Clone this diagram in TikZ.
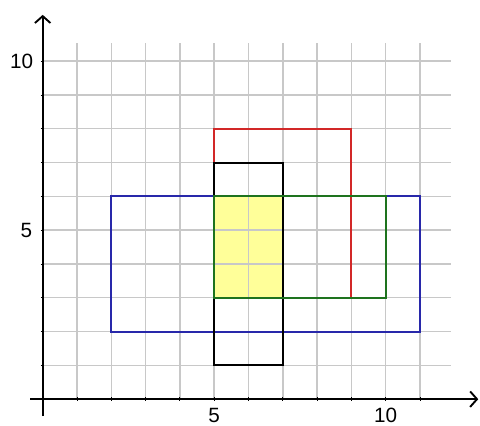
\documentclass[tikz,border=0pt]{standalone}
\usepackage{fontspec}
\setmainfont{Liberation Sans}
\usetikzlibrary{arrows.meta}
\definecolor{hilite}{RGB}{255,255,153}
\definecolor{gridgray}{RGB}{200,200,200}
\definecolor{rectblue}{RGB}{40,40,170}
\definecolor{rectred}{RGB}{210,40,40}
\definecolor{rectgreen}{RGB}{30,115,30}

\begin{document}
\begin{tikzpicture}[x=0.7cm, y=0.6898cm, font=\fontsize{12}{14}\selectfont,
  gridline/.style={draw=gridgray, line width=0.85pt},
  axisline/.style={line width=1.1pt, -{Straight Barb[length=4pt, width=9pt]}},
  region/.style={line width=1.1pt},
  ticklabel/.style={inner sep=3pt}]
    \useasboundingbox (-1.245,-0.79) rectangle (12.75,11.81);
    % overlap of all four boxes
    \fill[hilite] (5,3) rectangle (7,6);
    % grid
    \foreach \i in {1,...,11}
        \draw[gridline] (\i,0) -- (\i,10.55);
    \foreach \j in {1,...,10}
        \draw[gridline] (0,\j) -- (11.9,\j);
    % axes
    \coordinate (xstart) at (-0.37,0);
    \coordinate (xend) at (12.7,0);
    \coordinate (ystart) at (0,-0.5);
    \coordinate (yend) at (0,11.37);
    \draw[axisline] (xstart) -- (xend);
    \draw[axisline] (ystart) -- (yend);
    \foreach \i in {1,...,11}
        \draw[line width=0.5pt] (\i,-0.05) -- (\i,0.05);
    \foreach \j in {1,...,10}
        \draw[line width=0.5pt] (-0.05,\j) -- (0.05,\j);
    % tick labels
    \node[ticklabel, anchor=north] (x5) at (5,-0.1) {5};
    \node[ticklabel, anchor=north] (x10) at (10,-0.1) {10};
    \node[ticklabel, anchor=east] (y5) at (-0.15,5) {5};
    \node[ticklabel, anchor=east] (y10) at (-0.12,10) {10};
    % boxes
    \draw[region, rectblue] (2,2) rectangle (11,6);
    \draw[region, rectred] (5,3) rectangle (9,8);
    \draw[region, black] (5,1) rectangle (7,7);
    \draw[region, rectgreen] (5,3) rectangle (10,6);
\end{tikzpicture}
\end{document}
